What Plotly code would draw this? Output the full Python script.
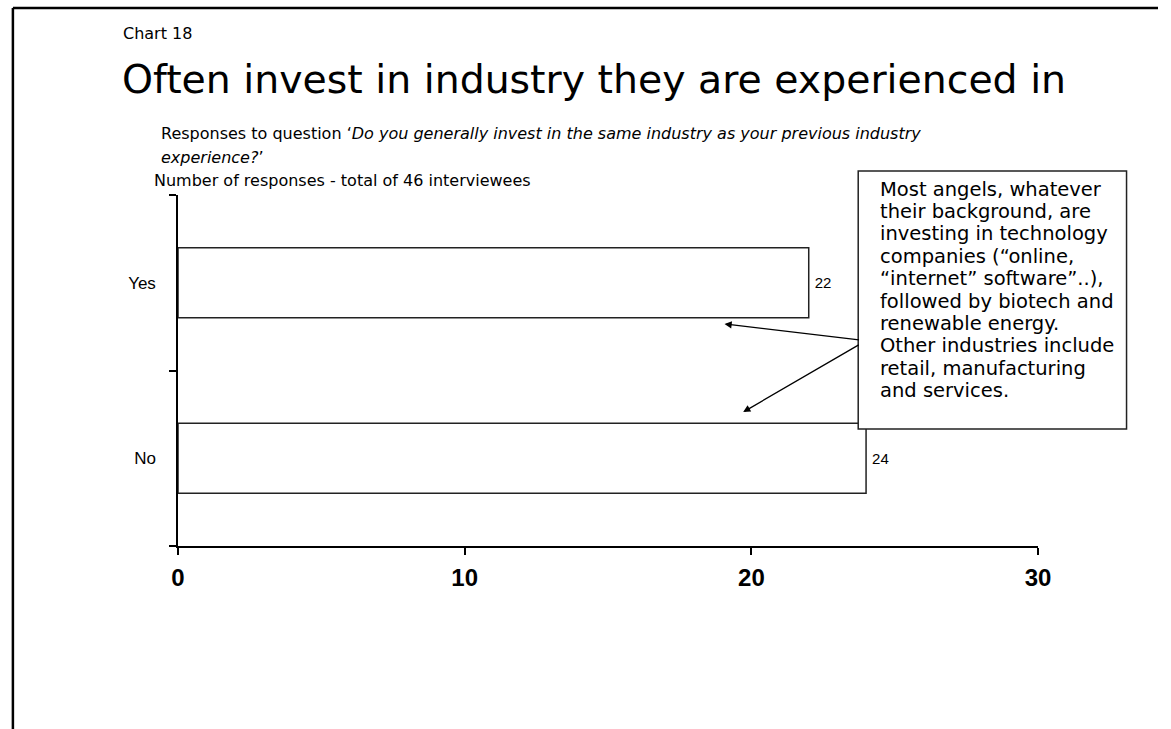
import plotly.graph_objects as go

# Survey answers
categories = ["No", "Yes"]
responses = [24, 22]
x_ticks = [0, 10, 20, 30]

chart_label = "Chart 18"
title_text = "Often invest in industry they are experienced in"
question_line1 = "Responses to question \u2018<i>Do you generally invest in the same industry as your previous industry</i>"
question_line2 = "<i>experience?</i>\u2019"
axis_caption = "Number of responses - total of 46 interviewees"
note_lines = [
    "Most angels, whatever",
    "their background, are",
    "investing in technology",
    "companies (\u201conline,",
    "\u201cinternet\u201d software\u201d..),",
    "followed by biotech and",
    "renewable energy.",
    "Other industries include",
    "retail, manufacturing",
    "and services.",
]

W, H = 1171, 729
SLIDE_FONT = "DejaVu Sans"
CHART_FONT = "Liberation Sans, Arial, sans-serif"


def px(x):
    return x / W


def py(y):
    return 1 - y / H


fig = go.Figure(
    go.Bar(
        x=responses,
        y=categories,
        orientation="h",
        marker=dict(color="white", line=dict(color="#222222", width=1.5)),
        text=[str(v) for v in responses],
        texttemplate="\u2009%{text}",
        textposition="outside",
        textfont=dict(family=CHART_FONT, size=15, color="black"),
        cliponaxis=False,
        hoverinfo="skip",
    )
)

fig.update_layout(
    width=W,
    height=H,
    margin=dict(l=0, r=0, t=0, b=0),
    paper_bgcolor="white",
    plot_bgcolor="white",
    showlegend=False,
    bargap=0.6,
    xaxis=dict(
        domain=[px(174), px(1049)],
        range=[0, 30],
        tickvals=x_ticks,
        ticks="outside",
        ticklen=7,
        tickwidth=1.5,
        tickcolor="black",
        showline=True,
        linecolor="black",
        linewidth=1.5,
        showgrid=False,
        zeroline=False,
        tickfont=dict(family=CHART_FONT, size=24, color="black", weight="bold"),
        ticklabelstandoff=2,
    ),
    yaxis=dict(
        domain=[py(546), py(195)],
        type="category",
        categoryorder="array",
        categoryarray=categories,
        tickson="boundaries",
        ticks="outside",
        ticklen=7,
        tickwidth=1.5,
        tickcolor="black",
        showline=True,
        linecolor="black",
        linewidth=1.5,
        showgrid=False,
        zeroline=False,
        tickfont=dict(family=CHART_FONT, size=17, color="black"),
        ticklabelstandoff=17,
    ),
)

# Slide frame: top and left rules
fig.add_shape(type="line", xref="paper", yref="paper", x0=px(6), x1=1, y0=py(8), y1=py(8),
              line=dict(color="black", width=2.5))
fig.add_shape(type="line", xref="paper", yref="paper", x0=px(6), x1=px(6), y0=py(8), y1=0,
              line=dict(color="black", width=2.5))

# Header texts
fig.add_annotation(text=chart_label, xref="paper", yref="paper", x=px(116), y=py(34),
                   xanchor="left", yanchor="middle", showarrow=False,
                   font=dict(family=SLIDE_FONT, size=16, color="black"))
fig.add_annotation(text=title_text, xref="paper", yref="paper", x=px(115), y=py(79),
                   xanchor="left", yanchor="middle", showarrow=False,
                   font=dict(family=SLIDE_FONT, size=39.4, color="black"))
fig.add_annotation(text=question_line1, xref="paper", yref="paper", x=px(155), y=py(134),
                   xanchor="left", yanchor="middle", showarrow=False,
                   font=dict(family=SLIDE_FONT, size=16, color="black"))
fig.add_annotation(text=question_line2, xref="paper", yref="paper", x=px(155), y=py(157),
                   xanchor="left", yanchor="middle", showarrow=False,
                   font=dict(family=SLIDE_FONT, size=16, color="black"))
fig.add_annotation(text=axis_caption, xref="paper", yref="paper", x=px(148), y=py(181),
                   xanchor="left", yanchor="middle", showarrow=False,
                   font=dict(family=SLIDE_FONT, size=16, color="black"))

# Call-out box with its note
fig.add_shape(type="rect", xref="paper", yref="paper", x0=px(866), x1=px(1139), y0=py(429), y1=py(171),
              line=dict(color="#222222", width=1.5), fillcolor="white", layer="above")
for i, line in enumerate(note_lines):
    fig.add_annotation(text=line, xref="paper", yref="paper", x=px(886), y=py(189 + 22.4 * i),
                       xanchor="left", yanchor="middle", showarrow=False,
                       font=dict(family=SLIDE_FONT, size=19.5, color="black"))

# Pointers from the box to both bars (tail offsets in pixels)
for head, tail in [((730, 324), (866, 340)), ((749, 412), (866, 344))]:
    fig.add_annotation(text="", xref="paper", yref="paper",
                       x=px(head[0]), y=py(head[1]),
                       ax=tail[0] - head[0], ay=tail[1] - head[1],
                       showarrow=True, arrowhead=2, arrowsize=1.1, arrowwidth=1.3,
                       arrowcolor="black", standoff=0, startstandoff=0)

fig.write_html("out.html")
